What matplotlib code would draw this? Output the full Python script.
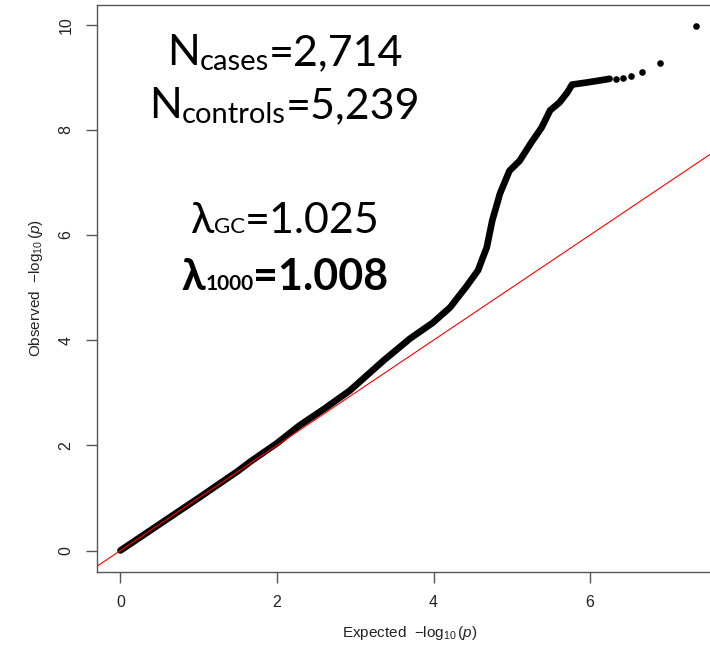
#!/usr/bin/env python3
# coding: utf-8

import matplotlib
matplotlib.use("Agg")
from matplotlib import pyplot as plt
from matplotlib.transforms import IdentityTransform

# QQ curve (expected vs observed -log10 p)
expected = [0.0, 0.5, 1.0, 1.5, 1.66, 2.0, 2.29, 2.6, 2.93, 3.36, 3.70,
            3.99, 4.21, 4.42, 4.57, 4.63, 4.68, 4.75, 4.85, 4.97, 5.10,
            5.25, 5.38, 5.49, 5.61, 5.71, 5.77, 5.96, 6.13, 6.25]
observed = [0.0, 0.5, 1.0, 1.51, 1.69, 2.04, 2.38, 2.69, 3.04, 3.61, 4.03,
            4.33, 4.62, 5.02, 5.33, 5.57, 5.76, 6.27, 6.79, 7.22, 7.41,
            7.76, 8.04, 8.37, 8.52, 8.71, 8.86, 8.90, 8.94, 8.97]

# sparse top hits
tail_x = [6.33, 6.42, 6.52, 6.67, 6.89, 7.36]
tail_y = [8.97, 8.98, 9.03, 9.10, 9.28, 9.97]

x_ticks = [0, 2, 4, 6]
y_ticks = [0, 2, 4, 6, 8, 10]

plt.rcParams["mathtext.fontset"] = "custom"
plt.rcParams["mathtext.rm"] = "Liberation Sans"
plt.rcParams["mathtext.it"] = "Liberation Sans:italic"

fig = plt.figure(figsize=(7.10, 6.48), dpi=100)
ax = fig.add_axes([0.137, 0.118, 0.881, 0.874])

ax.plot(expected, observed, color="black", lw=4.8, solid_capstyle="round",
        solid_joinstyle="round", zorder=2)
ax.scatter(tail_x, tail_y, s=14, color="black", zorder=2)
ax.axline((0, 0), slope=1, color="red", lw=0.8, zorder=3)

ax.set_xlim(-0.296, 7.696)
ax.set_ylim(-0.40, 10.37)
ax.set_xticks(x_ticks)
ax.set_yticks(y_ticks)

for side in ["left", "bottom", "top", "right"]:
    ax.spines[side].set_color("#555555")
    ax.spines[side].set_linewidth(1.0)
ax.tick_params(colors="#555555", length=8, width=1.0, labelcolor="#222222",
               labelsize=11.5, pad=9)
ax.tick_params(axis="y", labelrotation=90)
for lab in ax.get_xticklabels() + ax.get_yticklabels():
    lab.set_fontfamily("Liberation Sans")
for lab in ax.get_yticklabels():
    lab.set_verticalalignment("center")

ax.set_xlabel(r"Expected  $-\log_{10}(p)$", fontsize=11, family="Liberation Sans",
              labelpad=10, color="#222222")
ax.set_ylabel(r"Observed  $-\log_{10}(p)$", fontsize=11, family="Liberation Sans",
              labelpad=10, color="#222222")

# annotation block, pieces laid out in pixels
fam = ["Lato", "Noto Sans", "DejaVu Sans"]
renderer = fig.canvas.get_renderer()


def line_of_text(pieces, cx, base):
    texts = []
    x = 0
    for s, size, weight, dy in pieces:
        t = fig.text(x, base + dy, s, fontsize=size, fontweight=weight,
                     family=fam, ha="left", va="baseline",
                     transform=IdentityTransform())
        w = t.get_window_extent(renderer).width
        texts.append((t, x))
        x += w
    start = cx - x / 2
    for t, off in texts:
        t.set_x(start + off)


cx = 285
line_of_text([("N", 31, "normal", 0), ("cases", 21, "normal", -5),
              ("=2,714", 31, "normal", 0)], cx, 648 - 65)
line_of_text([("N", 31, "normal", 0), ("controls", 21, "normal", -5),
              ("=5,239", 31, "normal", 0)], cx, 648 - 118)
line_of_text([("λ", 31, "normal", 0), ("GC", 16, "normal", 0),
              ("=1.025", 31, "normal", 0)], cx, 648 - 233)
line_of_text([("λ", 31, "bold", 0), ("1000", 15, "bold", 0),
              ("=1.008", 31, "bold", 0)], cx, 648 - 290)

fig.savefig("out.png", dpi=100)
